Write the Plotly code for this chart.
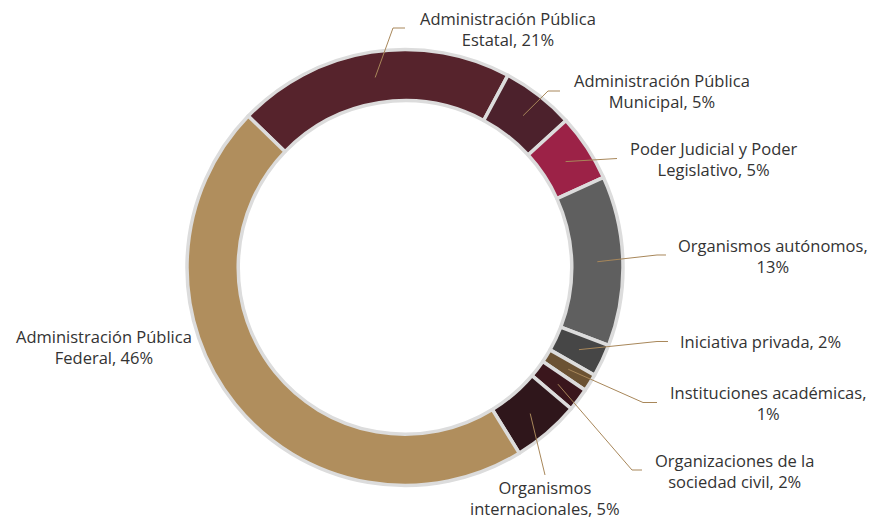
import math
import plotly.graph_objects as go

# ---- data ----
categories = [
    "Administración Pública Estatal",
    "Administración Pública Municipal",
    "Poder Judicial y Poder Legislativo",
    "Organismos autónomos",
    "Iniciativa privada",
    "Instituciones académicas",
    "Organizaciones de la sociedad civil",
    "Organismos internacionales",
    "Administración Pública Federal",
]
values = [20.6, 5.4, 5.0, 12.6, 2.4, 1.3, 1.7, 5.0, 46.0]
label_texts = [
    "Administración Pública<br>Estatal, 21%",
    "Administración Pública<br>Municipal, 5%",
    "Poder Judicial y Poder<br>Legislativo, 5%",
    "Organismos autónomos,<br>13%",
    "Iniciativa privada, 2%",
    "Instituciones académicas,<br>1%",
    "Organizaciones de la<br>sociedad civil, 2%",
    "Organismos<br>internacionales, 5%",
    "Administración Pública<br>Federal, 46%",
]

# ---- styles / layout ----
colors = ["#56232C", "#4C212C", "#9C2247", "#5F5F5F", "#464646",
          "#6B5233", "#3A161C", "#2F161B", "#B08E5D"]
W, H = 874, 520
CX, CY, R = 405, 267.5, 218
HOLE = 0.765
ROT = -46
LINE_COL = "#A8875A"
TEXT_COL = "#333333"
FS = 16.5

# label anchor (text center) positions, and leader line kink/end points (pixels)
label_pos = [(508, 29), (662, 91), (714, 159), (773, 256), (760, 341),
             (768, 403), (734, 471), (545, 498), (104, 347)]
leader_pts = [
    [(393, 28), (405, 28)],
    [(548, 91), (560, 91)],
    [(617, 158.5)],
    [(657, 255), (666, 255)],
    [(657, 341.5), (668, 341.5)],
    [(643, 402.5), (657, 402.5)],
    [(632, 470), (642, 470)],
    [(545, 475)],
    None,
]

fig = go.Figure(go.Pie(
    labels=categories, values=values, sort=False, direction="clockwise",
    rotation=ROT, hole=HOLE, textinfo="none", hoverinfo="label+percent",
    marker=dict(colors=colors, line=dict(color="#DCDCDC", width=3.5)),
    domain=dict(x=[(CX - R) / W, (CX + R) / W],
                y=[(H - CY - R) / H, (H - CY + R) / H]),
    showlegend=False,
))

def px(x, y):
    return x / W, 1 - y / H

total = sum(values)
cum = 0.0
shapes = []
annotations = []
rmid = R * (1 + HOLE) / 2
for i, v in enumerate(values):
    mid = ROT + (cum + v / 2) / total * 360
    cum += v
    th = math.radians(mid)
    sx, sy = CX + rmid * math.sin(th), CY - rmid * math.cos(th)
    pts = leader_pts[i]
    if pts:
        allp = [(sx, sy)] + pts
        path = "M " + " L ".join(f"{px(a, b)[0]:.5f},{px(a, b)[1]:.5f}" for a, b in allp)
        shapes.append(dict(type="path", path=path, xref="paper", yref="paper",
                           line=dict(color=LINE_COL, width=1)))
    lx, ly = label_pos[i]
    ax, ay = px(lx, ly)
    annotations.append(dict(x=ax, y=ay, xref="paper", yref="paper", text=label_texts[i],
                            showarrow=False, xanchor="center", yanchor="middle",
                            align="center", font=dict(size=FS, color=TEXT_COL)))

fig.update_layout(
    width=W, height=H, margin=dict(l=0, r=0, t=0, b=0),
    paper_bgcolor="white", plot_bgcolor="white",
    font=dict(family="Open Sans, sans-serif", size=FS, color=TEXT_COL),
    shapes=shapes, annotations=annotations,
)
fig.write_html("out.html")
